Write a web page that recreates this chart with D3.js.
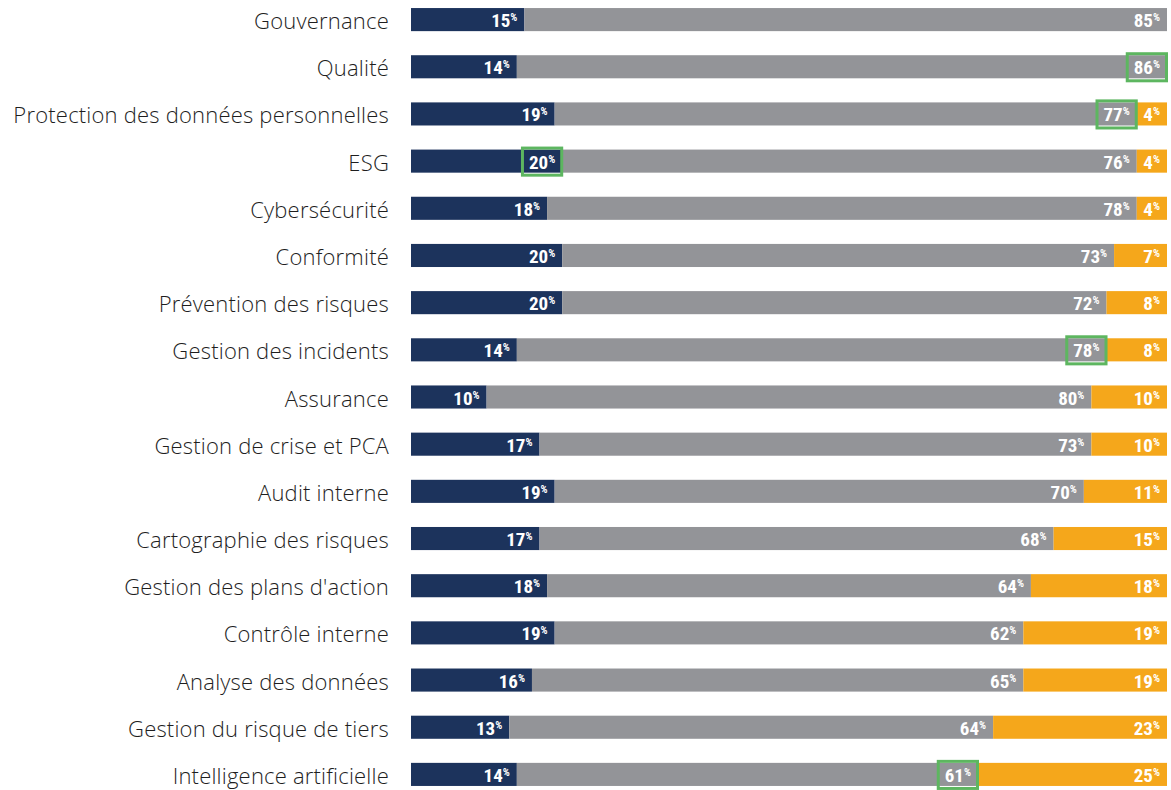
<!DOCTYPE html>
<html>
<head>
<meta charset="utf-8">
<script src="https://cdn.jsdelivr.net/npm/d3@7"></script>
<style>
  body { margin: 0; background: #fff; }
</style>
</head>
<body>
<div id="chart"></div>
<script>
const categories = [
  "Gouvernance", "Qualité", "Protection des données personnelles", "ESG",
  "Cybersécurité", "Conformité", "Prévention des risques", "Gestion des incidents",
  "Assurance", "Gestion de crise et PCA", "Audit interne", "Cartographie des risques",
  "Gestion des plans d'action", "Contrôle interne", "Analyse des données",
  "Gestion du risque de tiers", "Intelligence artificielle"
];
const navyValues   = [15, 14, 19, 20, 18, 20, 20, 14, 10, 17, 19, 17, 18, 19, 16, 13, 14];
const grayValues   = [85, 86, 77, 76, 78, 73, 72, 78, 80, 73, 70, 68, 64, 62, 65, 64, 61];
const orangeValues = [0, 0, 4, 4, 4, 7, 8, 8, 10, 10, 11, 15, 18, 19, 19, 23, 25];
// highlighted labels: [category, series]
const highlights = [
  ["Qualité", "gray"], ["Protection des données personnelles", "gray"], ["ESG", "navy"],
  ["Gestion des incidents", "gray"], ["Intelligence artificielle", "gray"]
];

const seriesKeys = ["navy", "gray", "orange"];
const colors = { navy: "#1c335c", gray: "#939498", orange: "#f5a71b" };

const W = 1171, H = 790;
const left = 411, right = 1167;

const rows = categories.map((c, i) => ({
  cat: c, navy: navyValues[i], gray: grayValues[i], orange: orangeValues[i]
}));

const svg = d3.select("#chart").append("svg")
  .attr("width", W).attr("height", H);

const x = d3.scaleLinear().domain([0, 100]).range([left, right]);
const pad = 24 / 47;
const y = d3.scaleBand().domain(categories).range([-4, 798])
  .paddingInner(pad).paddingOuter(pad / 2);

const stacked = d3.stack().keys(seriesKeys)(rows);

const labelFont = "'Liberation Sans Narrow', 'Roboto Condensed', 'DejaVu Sans Condensed', sans-serif";

stacked.forEach(layer => {
  const g = svg.append("g");
  g.selectAll("rect").data(layer).enter().append("rect")
    .attr("x", d => x(d[0]))
    .attr("y", d => y(d.data.cat))
    .attr("width", d => x(d[1]) - x(d[0]))
    .attr("height", y.bandwidth())
    .attr("fill", colors[layer.key]);

  const t = g.selectAll("text").data(layer.filter(d => d[1] - d[0] > 0)).enter().append("text")
    .attr("x", d => x(d[1]) - 7)
    .attr("y", d => y(d.data.cat) + y.bandwidth() / 2 + 7.5)
    .attr("text-anchor", "end")
    .attr("fill", "#fff")
    .attr("font-family", labelFont)
    .attr("font-weight", "bold")
    .attr("font-size", 19)
    .attr("class", d => "lbl lbl-" + layer.key + "-" + categories.indexOf(d.data.cat));
  t.append("tspan").text(d => d[1] - d[0]);
  t.append("tspan").text("%").attr("font-size", 11).attr("dy", -6);
});

// green highlight boxes
highlights.forEach(([cat, key]) => {
  const i = categories.indexOf(cat);
  const node = svg.select(".lbl-" + key + "-" + i).node();
  const bb = node.getBBox();
  const layer = stacked.find(l => l.key === key);
  const segEnd = x(layer[i][1]);
  const top = y(cat) - 3, bottom = y(cat) + y.bandwidth() + 4;
  svg.append("rect")
    .attr("x", bb.x - 8 + 1.5)
    .attr("y", top + 1.5)
    .attr("width", segEnd - (bb.x - 8) - 2)
    .attr("height", bottom - top - 3)
    .attr("fill", "none")
    .attr("stroke", "#5db660")
    .attr("stroke-width", 3);
});

// category labels
svg.append("g").selectAll("text").data(categories).enter().append("text")
  .attr("x", 389)
  .attr("y", d => y(d) + y.bandwidth() / 2 + 9.5)
  .attr("text-anchor", "end")
  .attr("fill", "#1e1e1e")
  .attr("font-family", "'Open Sans', sans-serif")
  .attr("font-weight", 300)
  .attr("font-size", 22)
  .attr("letter-spacing", 0.2)
  .text(d => d);
</script>
</body>
</html>
